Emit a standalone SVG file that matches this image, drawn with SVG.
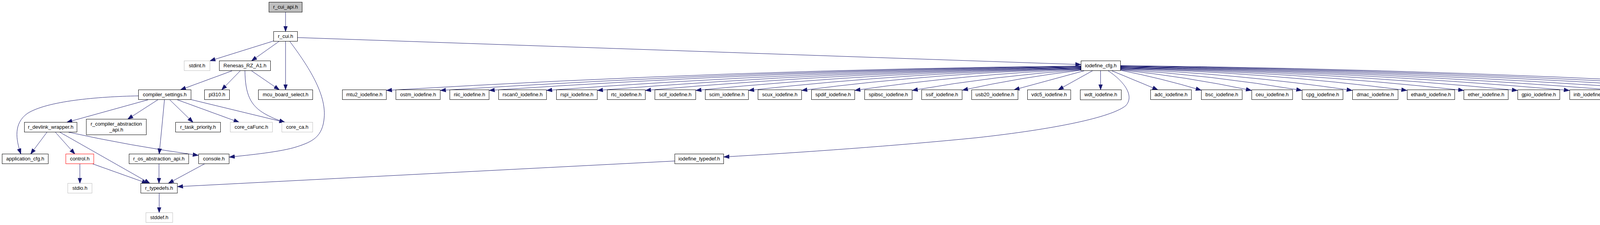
<svg xmlns="http://www.w3.org/2000/svg" width="4773" height="575" viewBox="0 0 4773 575">
<style>
.n rect{fill:#ffffff;stroke:#000000;stroke-width:1}
.n.root rect{fill:#bfbfbf}
.n.ext rect{stroke:#bfbfbf}
.n.trunc rect{stroke:#ff0000}
.n text{font-family:"Liberation Sans",Arial,Helvetica,sans-serif;font-size:13px;fill:#000000;text-anchor:middle}
#edges path{fill:none;stroke:#191970;stroke-width:1;marker-end:url(#ah)}
</style>
<defs>
<marker id="ah" markerUnits="userSpaceOnUse" markerWidth="15" markerHeight="11" viewBox="0 0 15 11" refX="14" refY="5.5" orient="auto">
<path d="M0.5,0.7 L14,5.5 L0.5,10.3 z" fill="#191970" stroke="#191970" stroke-width="1"/>
</marker>
</defs>
<rect x="0" y="0" width="4773" height="575" fill="#ffffff"/>
<g id="edges">
<path d="M731,31 L731,80.5"/>
<path d="M701,104.5 L537.5,155.5"/>
<path d="M714,106 L644,155.5"/>
<path d="M731,106 L731,229.5"/>
<path d="M742,106 C790,170 835,240 830,300 C826,350 800,362 760,375 C720,388 640,396 587,401.5"/>
<path d="M762,96 L2767,165"/>
<path d="M594,181 L462,229.5"/>
<path d="M615,181 L567.5,229.5"/>
<path d="M627,181 C628,240 640,270 680,292 C700,303 715,308 729,312.5"/>
<path d="M644,181 L715,229.5"/>
<path d="M354.5,245 C250,247 120,258 70,290 C35,315 40,355 53.5,393.5"/>
<path d="M379,255 L171,312.5"/>
<path d="M404,255 L327,304.5"/>
<path d="M421,255 Q414,330 407.5,393.5"/>
<path d="M434.5,255 L494,312.5"/>
<path d="M454,255 L612,312.5"/>
<path d="M489,254.5 L729,312.5"/>
<path d="M120.5,337.5 L78.5,393.5"/>
<path d="M141.5,337.5 L191.5,393.5"/>
<path d="M152.5,337.5 L383.5,468.5"/>
<path d="M174,337.5 Q330,372 507.5,397"/>
<path d="M204.5,418.5 L204.5,468.5"/>
<path d="M236.5,418.5 L377,468.5"/>
<path d="M407,418.5 L407,468.5"/>
<path d="M524,418.5 L431,468.5"/>
<path d="M1727,411.5 L454.5,477"/>
<path d="M407.5,493.5 L407.5,543.5"/>
<path d="M2837,181 C2878,208 2905,245 2882,270 C2845,300 2700,330 2500,352 C2300,372 2050,390 1853,401"/>
<path d="M2767,168.5 Q1878,177.9 989.5,231"/>
<path d="M2767,169.5 Q1947,178.7 1127.5,231"/>
<path d="M2767,170.5 Q2010,179.6 1252.5,231"/>
<path d="M2767,171.5 Q2083,180.4 1399.5,231"/>
<path d="M2767,172.5 Q2148,181.3 1529.5,231"/>
<path d="M2767,173.5 Q2210,182.1 1652.5,231"/>
<path d="M2767,174.5 Q2274,183 1781.5,231"/>
<path d="M2767,175.5 Q2342,183.8 1916.5,231"/>
<path d="M2767,176.5 Q2410,184.7 2052.5,231"/>
<path d="M2767,177.5 Q2478,188.8 2188.5,231"/>
<path d="M2767,178.5 Q2551,193.4 2335.5,231"/>
<path d="M2767,179.5 Q2615.5,197.3 2464,230.5"/>
<path d="M2776,180.7 L2596,229.5"/>
<path d="M2797,180.7 L2709,229.5"/>
<path d="M2817.5,180.7 L2817.5,229.5"/>
<path d="M2846,180.7 L2964,229.5"/>
<path d="M2868,179.5 Q2971.5,199.7 3075,230.5"/>
<path d="M2868,178.5 Q3036,195.9 3203.5,231"/>
<path d="M2868,177.5 Q3100,191.8 3332.5,231"/>
<path d="M2868,176.5 Q3165,187.6 3461.5,231"/>
<path d="M2868,175.5 Q3235,183.8 3601.5,231"/>
<path d="M2868,174.5 Q3307.5,183 3747,231"/>
<path d="M2868,173.5 Q3376,182.1 3884.5,231"/>
<path d="M2868,172.5 Q3443,181.3 4017.5,231"/>
<path d="M2868,171.5 Q3506,180.4 4143.5,231"/>
<path d="M2868,170.5 Q3570,179.6 4272.5,231"/>
<path d="M2868,169.5 Q3635,178.7 4402.5,231"/>
<path d="M2868,168.5 Q3698,177.9 4528.5,231"/>
<path d="M2868,167.5 Q3761,177 4653.5,231"/>
</g>
<g id="n_r_cui_api_h" class="n root"><rect x="688.5" y="5.5" width="85" height="25.5"/><text x="731" y="22">r_cui_api.h</text></g>
<g id="n_r_cui_h" class="n"><rect x="700.5" y="80.5" width="61" height="25"/><text x="731" y="97">r_cui.h</text></g>
<g id="n_stdint_h" class="n ext"><rect x="471.5" y="155.5" width="66" height="25"/><text x="504.5" y="172">stdint.h</text></g>
<g id="n_Renesas_RZ_A1_h" class="n"><rect x="561.5" y="155.5" width="131" height="25"/><text x="627" y="172">Renesas_RZ_A1.h</text></g>
<g id="n_iodefine_cfg_h" class="n"><rect x="2767.5" y="155.5" width="101" height="25"/><text x="2818" y="172">iodefine_cfg.h</text></g>
<g id="n_compiler_settings_h" class="n"><rect x="354.5" y="229.5" width="134.5" height="25"/><text x="421.75" y="246">compiler_settings.h</text></g>
<g id="n_pl310_h" class="n"><rect x="523.5" y="229.5" width="64" height="25"/><text x="555.5" y="246">pl310.h</text></g>
<g id="n_mcu_board_select_h" class="n"><rect x="661.5" y="229.5" width="139" height="25"/><text x="731" y="246">mcu_board_select.h</text></g>
<g id="n_mtu2_iodefine_h" class="n"><rect x="876.5" y="229.5" width="112.5" height="25"/><text x="932.75" y="246">mtu2_iodefine.h</text></g>
<g id="n_ostm_iodefine_h" class="n"><rect x="1013.5" y="229.5" width="113.5" height="25"/><text x="1070.25" y="246">ostm_iodefine.h</text></g>
<g id="n_riic_iodefine_h" class="n"><rect x="1151.5" y="229.5" width="100.5" height="25"/><text x="1201.75" y="246">riic_iodefine.h</text></g>
<g id="n_rscan0_iodefine_h" class="n"><rect x="1276.5" y="229.5" width="122.5" height="25"/><text x="1337.75" y="246">rscan0_iodefine.h</text></g>
<g id="n_rspi_iodefine_h" class="n"><rect x="1424.5" y="229.5" width="104.5" height="25"/><text x="1476.75" y="246">rspi_iodefine.h</text></g>
<g id="n_rtc_iodefine_h" class="n"><rect x="1554.5" y="229.5" width="97.5" height="25"/><text x="1603.25" y="246">rtc_iodefine.h</text></g>
<g id="n_scif_iodefine_h" class="n"><rect x="1676.5" y="229.5" width="104.5" height="25"/><text x="1728.75" y="246">scif_iodefine.h</text></g>
<g id="n_scim_iodefine_h" class="n"><rect x="1805.5" y="229.5" width="110.5" height="25"/><text x="1860.75" y="246">scim_iodefine.h</text></g>
<g id="n_scux_iodefine_h" class="n"><rect x="1940.5" y="229.5" width="111.5" height="25"/><text x="1996.25" y="246">scux_iodefine.h</text></g>
<g id="n_spdif_iodefine_h" class="n"><rect x="2077.5" y="229.5" width="110.5" height="25"/><text x="2132.75" y="246">spdif_iodefine.h</text></g>
<g id="n_spibsc_iodefine_h" class="n"><rect x="2213.5" y="229.5" width="121.5" height="25"/><text x="2274.25" y="246">spibsc_iodefine.h</text></g>
<g id="n_ssif_iodefine_h" class="n"><rect x="2359.5" y="229.5" width="103.5" height="25"/><text x="2411.25" y="246">ssif_iodefine.h</text></g>
<g id="n_usb20_iodefine_h" class="n"><rect x="2487.5" y="229.5" width="118.5" height="25"/><text x="2546.75" y="246">usb20_iodefine.h</text></g>
<g id="n_vdc5_iodefine_h" class="n"><rect x="2630.5" y="229.5" width="110.5" height="25"/><text x="2685.75" y="246">vdc5_iodefine.h</text></g>
<g id="n_wdt_iodefine_h" class="n"><rect x="2765.5" y="229.5" width="105" height="25.5"/><text x="2818" y="246">wdt_iodefine.h</text></g>
<g id="n_adc_iodefine_h" class="n"><rect x="2945.5" y="229.5" width="104.5" height="25"/><text x="2997.75" y="246">adc_iodefine.h</text></g>
<g id="n_bsc_iodefine_h" class="n"><rect x="3075.5" y="229.5" width="104.5" height="25"/><text x="3127.75" y="246">bsc_iodefine.h</text></g>
<g id="n_ceu_iodefine_h" class="n"><rect x="3204.5" y="229.5" width="104.5" height="25"/><text x="3256.75" y="246">ceu_iodefine.h</text></g>
<g id="n_cpg_iodefine_h" class="n"><rect x="3333.5" y="229.5" width="104.5" height="25"/><text x="3385.75" y="246">cpg_iodefine.h</text></g>
<g id="n_dmac_iodefine_h" class="n"><rect x="3462.5" y="229.5" width="116.5" height="25"/><text x="3520.75" y="246">dmac_iodefine.h</text></g>
<g id="n_ethavb_iodefine_h" class="n"><rect x="3602.5" y="229.5" width="121.5" height="25"/><text x="3663.25" y="246">ethavb_iodefine.h</text></g>
<g id="n_ether_iodefine_h" class="n"><rect x="3747.5" y="229.5" width="113.5" height="25"/><text x="3804.25" y="246">ether_iodefine.h</text></g>
<g id="n_gpio_iodefine_h" class="n"><rect x="3885.5" y="229.5" width="107.5" height="25"/><text x="3939.25" y="246">gpio_iodefine.h</text></g>
<g id="n_inb_iodefine_h" class="n"><rect x="4018.5" y="229.5" width="100.5" height="25"/><text x="4068.75" y="246">inb_iodefine.h</text></g>
<g id="n_intc_iodefine_h" class="n"><rect x="4144.5" y="229.5" width="104.5" height="25"/><text x="4196.75" y="246">intc_iodefine.h</text></g>
<g id="n_irda_iodefine_h" class="n"><rect x="4273.5" y="229.5" width="104.5" height="25"/><text x="4325.75" y="246">irda_iodefine.h</text></g>
<g id="n_jcu_iodefine_h" class="n"><rect x="4403.5" y="229.5" width="100.5" height="25"/><text x="4453.75" y="246">jcu_iodefine.h</text></g>
<g id="n_l2c_iodefine_h" class="n"><rect x="4529.5" y="229.5" width="100.5" height="25"/><text x="4579.75" y="246">l2c_iodefine.h</text></g>
<g id="n_mmc_iodefine_h" class="n"><rect x="4654.5" y="229.5" width="113.5" height="25"/><text x="4711.25" y="246">mmc_iodefine.h</text></g>
<g id="n_r_devlink_wrapper_h" class="n"><rect x="62.5" y="312.5" width="134.5" height="25"/><text x="129.75" y="329">r_devlink_wrapper.h</text></g>
<g id="n_r_compiler_abstraction_api_h" class="n"><rect x="221" y="304.5" width="153.5" height="40"/><text x="297.75" y="321">r_compiler_abstraction</text><text x="297.75" y="335.5">_api.h</text></g>
<g id="n_r_task_priority_h" class="n"><rect x="449.5" y="312.5" width="115" height="25"/><text x="507" y="329">r_task_priority.h</text></g>
<g id="n_core_caFunc_h" class="n ext"><rect x="589.5" y="312.5" width="108" height="25"/><text x="643.5" y="329">core_caFunc.h</text></g>
<g id="n_core_ca_h" class="n ext"><rect x="721.5" y="312.5" width="79" height="25"/><text x="761" y="329">core_ca.h</text></g>
<g id="n_application_cfg_h" class="n"><rect x="5.5" y="393.5" width="118" height="25"/><text x="64.5" y="410">application_cfg.h</text></g>
<g id="n_control_h" class="n trunc"><rect x="168.5" y="393.5" width="71.5" height="25"/><text x="204.25" y="410">control.h</text></g>
<g id="n_r_os_abstraction_api_h" class="n"><rect x="330.5" y="393.5" width="152.5" height="25"/><text x="406.75" y="410">r_os_abstraction_api.h</text></g>
<g id="n_console_h" class="n"><rect x="508.5" y="393.5" width="78" height="25"/><text x="547.5" y="410">console.h</text></g>
<g id="n_iodefine_typedef_h" class="n"><rect x="1727.5" y="393.5" width="125" height="25"/><text x="1790" y="410">iodefine_typedef.h</text></g>
<g id="n_stdio_h" class="n ext"><rect x="173.5" y="468.5" width="62" height="25"/><text x="204.5" y="485">stdio.h</text></g>
<g id="n_r_typedefs_h" class="n"><rect x="360.5" y="468.5" width="93.5" height="25"/><text x="407.25" y="485">r_typedefs.h</text></g>
<g id="n_stddef_h" class="n ext"><rect x="373.5" y="543.5" width="68.5" height="25"/><text x="407.75" y="560">stddef.h</text></g>
</svg>
